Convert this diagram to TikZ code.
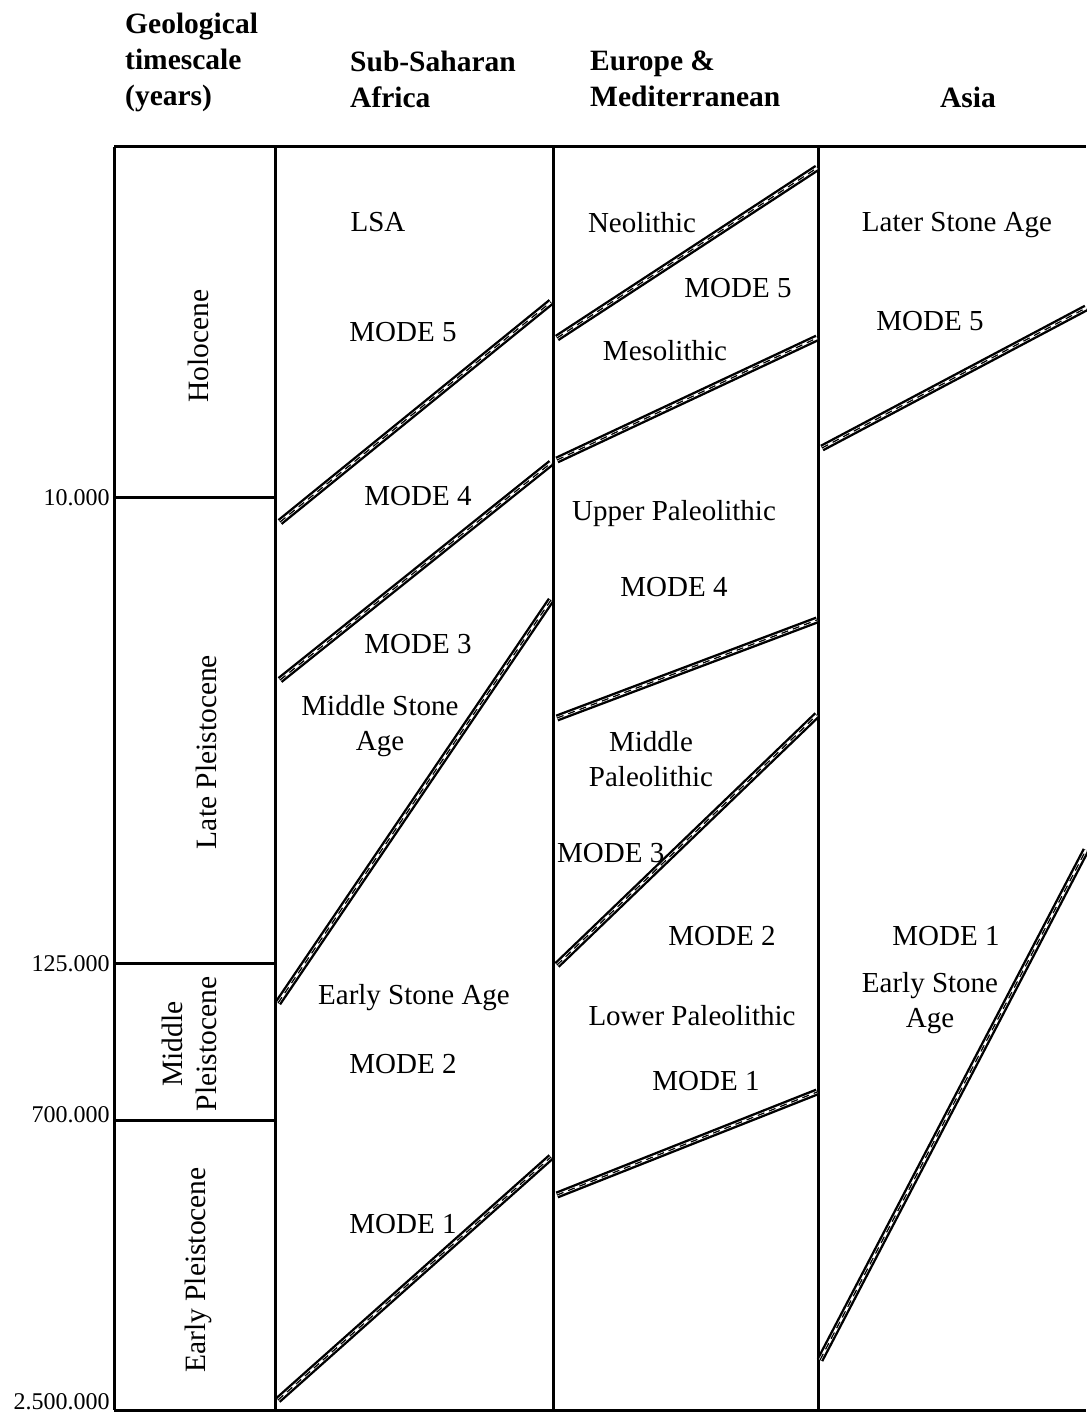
\documentclass[tikz,border=0pt]{standalone}
\usepackage{fontspec}
\setmainfont{Liberation Serif}
\usetikzlibrary{positioning}
\tikzset{
    period label/.style={
        font=\fontsize{29}{35}\selectfont,
        align=center,inner sep=0pt
    },
    head label/.style={
        font=\bfseries\fontsize{29.5}{36}\selectfont,
        align=left,anchor=west,inner sep=0pt
    },
    age label/.style={
        font=\fontsize{24}{26}\selectfont,
        anchor=base east,inner sep=0pt
    },
    era label/.style={
        font=\fontsize{29.5}{34}\selectfont,
        rotate=90,align=center,inner sep=0pt
    },
    grid line/.style={draw,line width=3pt},
    boundary/.style={draw,line width=2.4pt,double=white,double distance=2.4pt},
    boundary dash/.style={draw,line width=1.2pt,dash pattern=on 7pt off 5pt}
}

\begin{document}
\begin{tikzpicture}[x=1pt,y=-1pt]
\useasboundingbox (0,0) rectangle (1086,1412);

% table frame
\draw[grid line] (114,147) -- (1086,147);
\draw[grid line] (114,1410) -- (1086,1410);
\foreach \x in {114,275,553,818}
    \draw[grid line] (\x,147) -- (\x,1410);
\foreach \y/\base/\age in {497/505/10.000,963/971/125.000,1120/1122/700.000,1410/1409/2.500.000}
    \draw[grid line] (114,\y) -- (275,\y) node[age label] (age_\y) at (111,\base) {\age};

% headers
\node[head label] (head_time) at (125,62) {Geological\\timescale\\(years)};
\node[head label] (head_africa) at (350,79) {Sub-Saharan\\Africa};
\node[head label] (head_europe) at (590,79) {Europe \&\\Mediterranean};
\node[head label,anchor=center] (head_asia) at (968,97) {Asia};

% epochs
\node[era label] (holocene) at (198,346) {Holocene};
\node[era label] (late_pleist) at (206,752) {Late Pleistocene};
\node[era label] (middle_pleist) at (189,1044) {Middle\\Pleistocene};
\node[era label] (early_pleist) at (198,1270) {Early Pleistocene};

% boundaries between industries
\foreach \xa/\ya/\xb/\yb in {280/522/551/302, 280/680/551/463, 278/1003/551/600, 278/1400/551/1157,
    557/338/817/168, 557/460/817/338, 557/718/817/620, 557/965/817/715, 557/1195/817/1092,
    822/448/1086/308, 820/1360/1086/850}
{
    \draw[boundary] (\xa,\ya) -- (\xb,\yb);
    \draw[boundary dash] (\xa,\ya) -- (\xb,\yb);
}

% Sub-Saharan Africa
\node[period label] (af_lsa) at (378,222) {LSA};
\node[period label] (af_m5) at (403,332) {MODE 5};
\node[period label] (af_m4) at (418,496) {MODE 4};
\node[period label] (af_m3) at (418,644) {MODE 3};
\node[period label] (af_msa) at (380,726) {Middle Stone\\Age};
\node[period label] (af_esa) at (414,998) {Early Stone Age};
\node[period label] (af_m2) at (403,1064) {MODE 2};
\node[period label] (af_m1) at (403,1224) {MODE 1};

% Europe & Mediterranean
\node[period label] (eu_neo) at (642,223) {Neolithic};
\node[period label] (eu_m5) at (738,288) {MODE 5};
\node[period label] (eu_meso) at (665,351) {Mesolithic};
\node[period label] (eu_upper) at (674,514) {Upper Paleolithic};
\node[period label] (eu_m4) at (674,587) {MODE 4};
\node[period label] (eu_middle) at (651,759) {Middle\\Paleolithic};
\node[period label,anchor=west] (eu_m3) at (557,853) {MODE 3};
\node[period label] (eu_m2) at (722,936) {MODE 2};
\node[period label] (eu_lower) at (692,1016) {Lower Paleolithic};
\node[period label] (eu_m1) at (706,1081) {MODE 1};

% Asia
\node[period label] (as_lsa) at (957,225) {Later Stone Age};
\node[period label] (as_m5) at (930,321) {MODE 5};
\node[period label] (as_m1) at (946,936) {MODE 1};
\node[period label] (as_esa) at (930,1003) {Early Stone\\Age};
\end{tikzpicture}
\end{document}
